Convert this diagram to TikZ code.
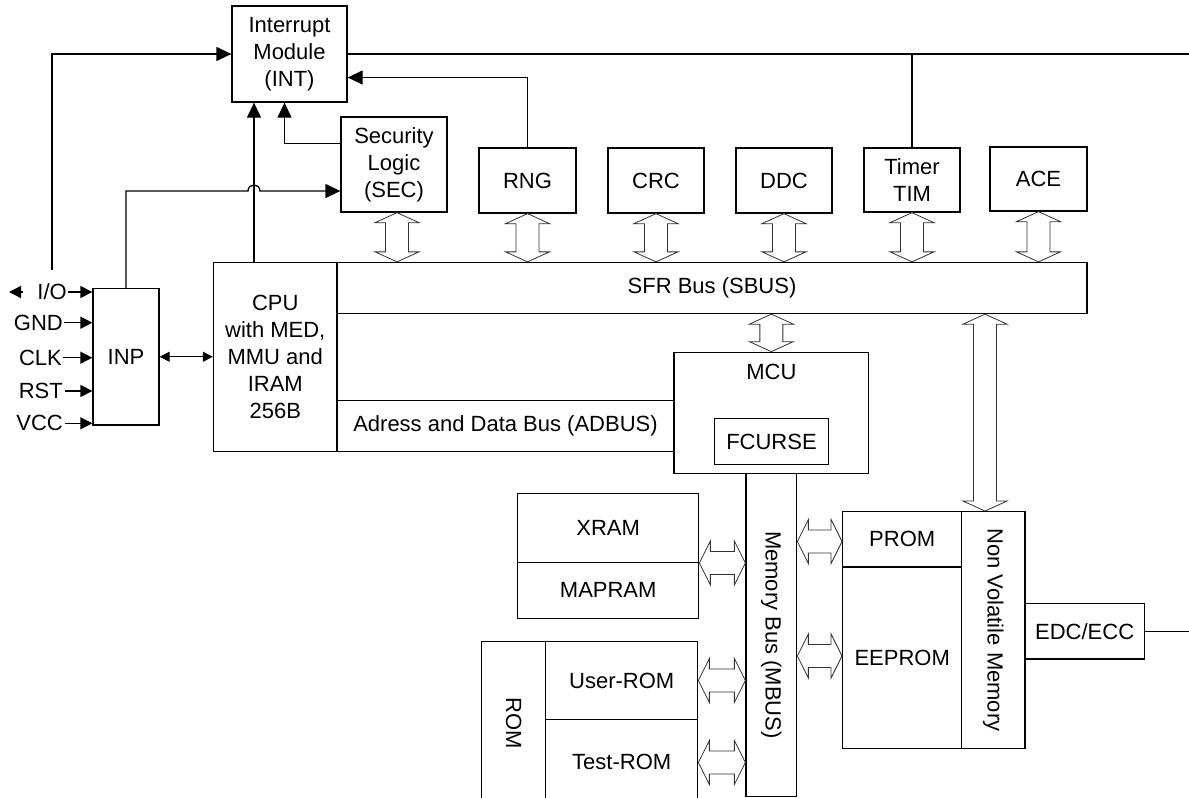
\documentclass[tikz,border=0pt]{standalone}
\usepackage{fontspec}
\setmainfont{Liberation Sans}
\usepackage{graphicx}
\usetikzlibrary{arrows.meta,calc}

\tikzset{
 box/.style={draw, line width=1.3pt, inner sep=0pt, align=center, font=\fontsize{22}{27}\selectfont},
 txt/.style={inner sep=0pt, align=center, font=\fontsize{22}{27}\selectfont},
 conn/.style={line width=1.3pt},
 tipA/.tip={Triangle[length=15pt,width=14pt]},
 tipP/.tip={Triangle[length=12pt,width=12pt]},
 tipD/.tip={Triangle[length=10pt,width=10pt]},
 arr/.style={conn, arrows={-tipA}},
 pinarr/.style={conn, arrows={-tipP}},
 dblarr/.style={line width=1pt, arrows={tipD-tipD}},
 busarrow/.style={draw=black!80, fill=white, line width=0.8pt, line join=miter},
}

\newcommand\blk[6]{\node[box, minimum width={#4-#2}, minimum height={#5-#3}] (#1) at ({(#2+#4)/2},{(#3+#5)/2}) {#6};}
\newcommand\busV[2]{\path[busarrow] (#1) -- ++(22,10) -- ++(-10.5,0) -- ($(#2)+(11.5,-10)$) -- ++(10.5,0) -- (#2) -- ++(-22,-10) -- ++(10.5,0) -- ($(#1)+(-11.5,10)$) -- ++(-10.5,0) -- cycle;}
\newcommand\busH[2]{\path[busarrow] (#1) -- ++(11,-22) -- ++(0,10.5) -- ($(#2)+(-11,-11.5)$) -- ++(0,-10.5) -- (#2) -- ++(-11,22) -- ++(0,-10.5) -- ($(#1)+(11,11.5)$) -- ++(0,10.5) -- cycle;}

\begin{document}
\begin{tikzpicture}[x=1pt,y=-1pt]
\useasboundingbox (0,0) rectangle (1189,798);

% blocks
\blk{int}{232}{6}{347}{102}{Interrupt\\Module\\(INT)}
\blk{sec}{341}{117}{447}{212}{Security\\Logic\\(SEC)}
\blk{rng}{479}{148}{576}{213}{RNG}
\blk{crc}{608}{148}{704}{213}{CRC}
\blk{ddc}{736}{148}{832}{213}{DDC}
\blk{tim}{864}{148}{960}{212}{Timer\\TIM}
\blk{ace}{990}{147}{1087}{211}{ACE}
\blk{sbus}{337}{262.5}{1087}{313.5}{SFR Bus (SBUS)}
\blk{cpu}{213.5}{262.5}{337}{451.5}{CPU\\with MED,\\MMU and\\IRAM\\256B}
\blk{inp}{93}{288.5}{159}{425}{INP}
\blk{adbus}{337}{400.7}{674}{451.5}{Adress and Data Bus (ADBUS)}
\blk{mcu}{674}{352.3}{868.7}{473.3}{}
\node[txt, anchor=north] (mcut) at ([yshift=-12.5pt]mcu.north) {MCU};
\blk{fcurse}{714.3}{418.7}{828.7}{464.3}{FCURSE}
\blk{mbus}{746}{473.3}{796.7}{796.7}{\rotatebox{-90}{Memory Bus (MBUS)}}
\blk{xram}{517.7}{493.3}{698.7}{562.3}{XRAM}
\blk{mapram}{517.7}{562.3}{698.7}{618.3}{MAPRAM}
\blk{rom}{481.7}{641.7}{545.7}{805}{\rotatebox{-90}{ROM}}
\blk{user}{545.7}{641.7}{697.7}{719.3}{User-ROM}
\blk{test}{545.7}{719.3}{697.7}{805}{Test-ROM}
\blk{prom}{842.7}{511.7}{961.7}{567}{PROM}
\blk{eeprom}{842.7}{567}{961.7}{748.3}{EEPROM}
\blk{nvm}{961.7}{511.7}{1025}{748.3}{\rotatebox{-90}{Non Volatile Memory}}
\blk{edc}{1025}{603.3}{1144.3}{659}{EDC/ECC}

% pins
\node[txt, anchor=east] (pio) at (67,292) {I/O};
\node[txt, anchor=east] (pgnd) at (63,322.7) {GND};
\node[txt, anchor=east] (pclk) at (62,357.7) {CLK};
\node[txt, anchor=east] (prst) at (63,391) {RST};
\node[txt, anchor=east] (pvcc) at (63,423.3) {VCC};
\coordinate (ioL0) at (23,292);
\coordinate (ioL) at (9,292);
\draw[pinarr] (ioL0) -- (ioL);
\draw[pinarr] ([xshift=1pt]pio.east) -- (pio.east -| inp.west);
\draw[pinarr] ([xshift=1pt]pgnd.east) -- (pgnd.east -| inp.west);
\draw[pinarr] ([xshift=1pt]pclk.east) -- (pclk.east -| inp.west);
\draw[pinarr] ([xshift=2pt]prst.east) -- (prst.east -| inp.west);
\draw[pinarr] ([xshift=2pt]pvcc.east) -- (pvcc.east -| inp.west);

% connectors
\coordinate (iotop) at (52,270);
\draw[arr] (iotop) |- (int.west);
\coordinate (re1) at (1189,54);
\draw[conn] (int.east) -- (re1);
\draw[conn] (tim.north) -- (tim.north |- re1);
\draw[arr] (rng.north) |- ([yshift=-23.5pt]int.east);
\coordinate (cx) at (254,0);
\draw[arr] (cpu.north -| cx) -- (int.south -| cx);
\draw[arr] ([yshift=21pt]sec.west) -| ([xshift=-5pt]int.south);
\coordinate (hopL) at (248,191);
\coordinate (hopR) at (260,191);
\draw[arr] (inp.north) -- (inp.north |- hopL) -- (hopL) .. controls (248,183) and (260,183) .. (hopR) -- (sec.west |- hopR);
\draw[dblarr] (inp.east) -- (inp.east -| cpu.west);
\coordinate (re2) at (1189,632);
\draw[conn] (edc.east) -- (edc.east -| re2);

% bus arrows (vertical)
\coordinate (a1) at ([xshift=3pt]sec.south); \coordinate (b1) at (a1 |- sbus.north); \busV{a1}{b1}
\coordinate (a2) at (rng.south); \coordinate (b2) at (a2 |- sbus.north); \busV{a2}{b2}
\coordinate (a3) at (crc.south); \coordinate (b3) at (a3 |- sbus.north); \busV{a3}{b3}
\coordinate (a4) at (ddc.south); \coordinate (b4) at (a4 |- sbus.north); \busV{a4}{b4}
\coordinate (a5) at (tim.south); \coordinate (b5) at (a5 |- sbus.north); \busV{a5}{b5}
\coordinate (a6) at (ace.south); \coordinate (b6) at (a6 |- sbus.north); \busV{a6}{b6}
\coordinate (a7) at (mcu.north |- sbus.south); \coordinate (b7) at (mcu.north); \busV{a7}{b7}
\coordinate (nx) at (985,0);
\coordinate (a8) at (sbus.south -| nx); \coordinate (b8) at (nvm.north -| nx); \busV{a8}{b8}

% bus arrows (horizontal)
\coordinate (h1) at (xram.south east); \coordinate (k1) at (mbus.west |- h1); \busH{h1}{k1}
\coordinate (h2) at (user.east); \coordinate (k2) at (mbus.west |- h2); \busH{h2}{k2}
\coordinate (h3) at (test.east |- 0,762.5); \coordinate (k3) at (mbus.west |- h3); \busH{h3}{k3}
\coordinate (k4) at (prom.west |- 0,541.5); \coordinate (h4) at (mbus.east |- k4); \busH{h4}{k4}
\coordinate (k5) at (eeprom.west |- 0,656); \coordinate (h5) at (mbus.east |- k5); \busH{h5}{k5}
\end{tikzpicture}
\end{document}
